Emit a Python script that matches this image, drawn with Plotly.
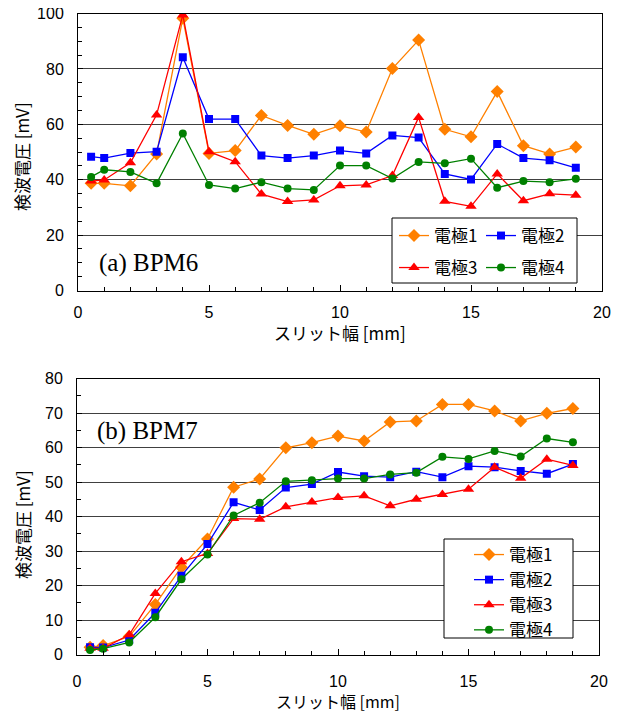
import plotly.graph_objects as go

# ---------------- data ----------------
slit = [0.5, 1, 2, 3, 4, 5, 6, 7, 8, 9, 10, 11, 12, 13, 14, 15, 16, 17, 18, 19]
names = ["電極1", "電極2", "電極3", "電極4"]

# (a) BPM6
bpm6_e1 = [38.7, 38.7, 37.8, 49.3, 98.3, 49.5, 50.5, 63.2, 59.6, 56.4, 59.5, 57.2, 80.1, 90.4, 58.2, 55.5, 71.8, 52.3, 49.3, 51.8]
bpm6_e2 = [48.3, 47.8, 49.6, 50.1, 84.2, 61.9, 61.9, 48.7, 47.8, 48.7, 50.5, 49.5, 56.0, 55.2, 42.1, 40.1, 52.9, 47.8, 47.0, 44.3]
bpm6_e3 = [39.5, 39.9, 46.1, 63.4, 99.5, 50.1, 46.5, 34.8, 32.1, 32.7, 37.8, 38.1, 41.5, 62.5, 32.2, 30.4, 42.1, 32.4, 34.9, 34.4]
bpm6_e4 = [41.0, 43.6, 42.8, 38.7, 56.7, 38.1, 36.8, 39.1, 36.8, 36.3, 45.1, 45.1, 40.4, 46.4, 45.9, 47.6, 37.1, 39.5, 39.1, 40.3]

# (b) BPM7
bpm7_e1 = [2.1, 2.6, 5.2, 14.5, 25.3, 33.5, 48.5, 50.9, 59.9, 61.4, 63.3, 61.9, 67.4, 67.7, 72.5, 72.5, 70.6, 67.7, 69.9, 71.3]
bpm7_e2 = [2.1, 2.0, 4.2, 12.1, 22.8, 32.0, 44.1, 41.9, 48.4, 49.4, 52.9, 51.7, 51.4, 53.0, 51.4, 54.6, 54.3, 53.2, 52.4, 55.2]
bpm7_e3 = [1.8, 1.8, 5.7, 17.7, 26.9, 29.3, 39.4, 39.2, 42.8, 44.2, 45.5, 46.0, 43.1, 45.0, 46.4, 47.9, 54.3, 51.1, 56.6, 54.8]
bpm7_e4 = [1.3, 1.7, 3.5, 10.8, 21.8, 29.0, 40.3, 44.0, 50.2, 50.5, 51.0, 51.0, 52.2, 52.7, 57.3, 56.7, 59.0, 57.4, 62.6, 61.5]

x_ticks = [0, 5, 10, 15, 20]
ya_ticks = [0, 20, 40, 60, 80, 100]
yb_ticks = [0, 10, 20, 30, 40, 50, 60, 70, 80]

# ---------------- styles ----------------
colors = ["#FF8000", "#0000FF", "#FF0000", "#008000"]
symbols = ["diamond", "square", "triangle-up", "circle"]
msizes = [10, 8, 10, 8]

PAGE_W, PAGE_H = 621, 713
OFF = 8  # default page body margin
W, H = PAGE_W - OFF, PAGE_H - OFF
CJK = "Noto Sans CJK JP"
NUM = "Liberation Sans"

fig = go.Figure()

a_series = [bpm6_e1, bpm6_e2, bpm6_e3, bpm6_e4]
b_series = [bpm7_e1, bpm7_e2, bpm7_e3, bpm7_e4]
a_legends = ["legend", "legend", "legend2", "legend2"]

for i, ys in enumerate(a_series):
    fig.add_trace(go.Scatter(
        x=slit, y=ys, name=names[i], mode="lines+markers",
        line=dict(color=colors[i], width=1.3),
        marker=dict(symbol=symbols[i], size=msizes[i], color=colors[i]),
        xaxis="x", yaxis="y", legend=a_legends[i]))

for i, ys in enumerate(b_series):
    fig.add_trace(go.Scatter(
        x=slit, y=ys, name=names[i], mode="lines+markers",
        line=dict(color=colors[i], width=1.3),
        marker=dict(symbol=symbols[i], size=msizes[i], color=colors[i]),
        xaxis="x2", yaxis="y2", legend="legend3"))

def px_x(p):
    return (p - OFF) / W

def px_y(p):
    return 1 - (p - OFF) / H

tickfont = dict(family=NUM, size=16, color="black")

common_x = dict(range=[0, 20], tickvals=x_ticks, ticks="inside", ticklen=6,
                tickcolor="black", showgrid=False, zeroline=False, automargin=False,
                showline=True, linecolor="black", linewidth=1, mirror=True,
                tickfont=tickfont, ticklabeloverflow="allow",
                minor=dict(dtick=1, ticks="inside", ticklen=4, tickcolor="black", showgrid=False))

legfont = dict(family=CJK, size=17, color="black")

fig.update_layout(
    width=W, height=H,
    margin=dict(l=0, r=0, t=0, b=0, autoexpand=False),
    paper_bgcolor="white", plot_bgcolor="white",
    showlegend=True,
    xaxis=dict(domain=[px_x(78), px_x(602)], anchor="y", ticklabelstandoff=7, **common_x),
    yaxis=dict(domain=[px_y(290.5), px_y(13.5)], anchor="x", range=[0, 100], automargin=False,
               tickvals=ya_ticks, ticks="inside", ticklen=5, tickcolor="black",
               showgrid=True, gridcolor="#404040", gridwidth=1, zeroline=False,
               showline=True, linecolor="black", linewidth=1, mirror=True,
               tickfont=tickfont, ticklabelstandoff=10, ticklabeloverflow="allow",
               minor=dict(dtick=5, ticks="inside", ticklen=4, tickcolor="black", showgrid=False)),
    xaxis2=dict(domain=[px_x(77), px_x(599)], anchor="y2", ticklabelstandoff=12, **common_x),
    yaxis2=dict(domain=[px_y(654.5), px_y(378.5)], anchor="x2", range=[0, 80], automargin=False,
                tickvals=yb_ticks, ticks="inside", ticklen=5, tickcolor="black",
                showgrid=True, gridcolor="#404040", gridwidth=1, zeroline=False,
                showline=True, linecolor="black", linewidth=1, mirror=True,
                tickfont=tickfont, ticklabelstandoff=10, ticklabeloverflow="allow",
                minor=dict(dtick=5, ticks="inside", ticklen=4, tickcolor="black", showgrid=False)),
    legend=dict(orientation="h", x=px_x(394), y=px_y(236), xanchor="left", yanchor="middle",
                bgcolor="rgba(0,0,0,0)", borderwidth=0, entrywidth=42, entrywidthmode="pixels",
                font=legfont, traceorder="normal"),
    legend2=dict(orientation="h", x=px_x(394), y=px_y(268), xanchor="left", yanchor="middle",
                 bgcolor="rgba(0,0,0,0)", borderwidth=0, entrywidth=42, entrywidthmode="pixels",
                 font=legfont, traceorder="normal"),
    legend3=dict(orientation="v", x=px_x(469), y=px_y(537), xanchor="left", yanchor="top",
                 bgcolor="rgba(0,0,0,0)", borderwidth=0,
                 font=legfont, traceorder="normal"),
    shapes=[
        dict(type="rect", xref="paper", yref="paper", layer="above",
             x0=px_x(392), x1=px_x(577), y0=px_y(283), y1=px_y(218),
             line=dict(color="black", width=1), fillcolor="white"),
        dict(type="rect", xref="paper", yref="paper", layer="above",
             x0=px_x(444), x1=px_x(573), y0=px_y(638), y1=px_y(539),
             line=dict(color="black", width=1), fillcolor="white"),
    ],
    annotations=[
        dict(text="(a) BPM6", xref="paper", yref="paper", x=px_x(97), y=px_y(263),
             xanchor="left", yanchor="middle", showarrow=False,
             font=dict(family="Liberation Serif", size=25, color="black")),
        dict(text="(b) BPM7", xref="paper", yref="paper", x=px_x(95), y=px_y(431),
             xanchor="left", yanchor="middle", showarrow=False,
             font=dict(family="Liberation Serif", size=25, color="black")),
        dict(text="検波電圧 [mV]", xref="paper", yref="paper", x=px_x(22), y=px_y(157),
             xanchor="center", yanchor="middle", textangle=-90, showarrow=False,
             font=dict(family=CJK, size=17, color="black")),
        dict(text="検波電圧 [mV]", xref="paper", yref="paper", x=px_x(22), y=px_y(525),
             xanchor="center", yanchor="middle", textangle=-90, showarrow=False,
             font=dict(family=CJK, size=17, color="black")),
        dict(text="スリット幅 [mm]", xref="paper", yref="paper", x=px_x(340), y=px_y(332),
             xanchor="center", yanchor="middle", showarrow=False,
             font=dict(family=CJK, size=17, color="black")),
        dict(text="スリット幅 [mm]", xref="paper", yref="paper", x=px_x(338), y=px_y(701),
             xanchor="center", yanchor="middle", showarrow=False,
             font=dict(family=CJK, size=16, color="black")),
    ],
)

fig.write_html("out.html")
